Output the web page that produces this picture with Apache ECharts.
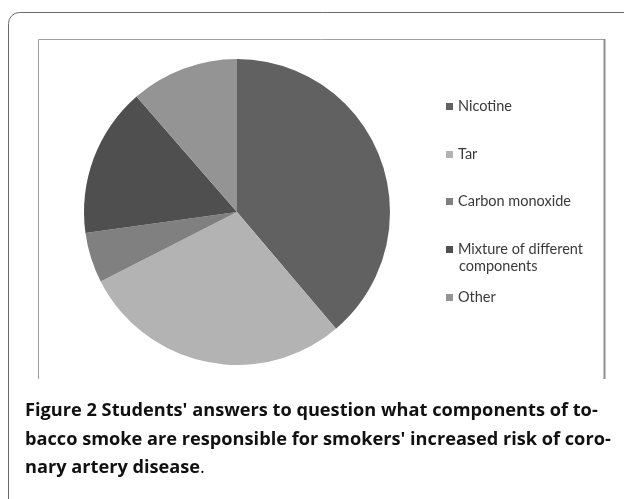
<!DOCTYPE html>
<html>
<head>
<meta charset="utf-8">
<script src="https://cdn.jsdelivr.net/npm/echarts@6/dist/echarts.min.js"></script>
<style>
html,body{margin:0;padding:0;background:#fff;}
#chart{width:624px;height:499px;}
</style>
</head>
<body>
<div id="chart"></div>
<script>
var categories = ['Nicotine', 'Tar', 'Carbon monoxide', 'Mixture of different components', 'Other'];
var values = [38.8, 28.7, 5.3, 15.8, 11.4];
var colors = ['#616161', '#b3b3b3', '#808080', '#4f4f4f', '#949494'];
var legendTops = [94, 142, 189, 237, 285];
var captionLines = [
  [{b:'Figure 2 '}, {s:"Students' answers to question what components of to-"}],
  [{s:"bacco smoke are responsible for smokers' increased risk of coro-"}],
  [{s:'nary artery disease'}, {n:'.'}]
];

var chart = echarts.init(document.getElementById('chart'), null, {renderer:'canvas'});
var legendFont = 'Lato';
var legends = categories.map(function(c, i){
  return {
    data: [c],
    orient: 'vertical',
    left: 441,
    top: legendTops[i],
    itemWidth: 7,
    itemHeight: 7,
    icon: 'rect',
    selectedMode: false,
    textStyle: {fontFamily: legendFont, fontSize: 14.5, color: '#3a3a3a'},
    formatter: function(n){ return n === 'Mixture of different components' ? 'Mixture of different' : n; }
  };
});
var captionGraphics = captionLines.map(function(line, i){
  var txt = line.map(function(p){
    if (p.b) return '{b|' + p.b + '}';
    if (p.s) return '{s|' + p.s + '}';
    return '{n|' + p.n + '}';
  }).join('');
  return {
    type: 'text', left: 25, top: 402 + i * 28.5,
    style: {
      text: txt,
      rich: {
        b: {fontFamily: 'Open Sans', fontWeight: 'bold', fontSize: 18.2, fill: '#111'},
        s: {fontFamily: 'Open Sans', fontWeight: 'bold', fontSize: 18.2, fill: '#111'},
        n: {fontFamily: 'Open Sans', fontWeight: 'normal', fontSize: 18.2, fill: '#111'}
      }
    }
  };
});
chart.setOption({
  animation: false,
  color: colors,
  legend: legends,
  graphic: [
    {type:'rect', shape:{x:8.5, y:12.5, width:700, height:600, r:11}, style:{fill:'none', stroke:'#6a6a6a', lineWidth:1}},
    {type:'polyline', shape:{points:[[38.5,379],[38.5,39.5],[604.5,39.5]]}, style:{fill:'none', stroke:'#a0a0a0', lineWidth:1}},
    {type:'line', shape:{x1:604.5, y1:39, x2:604.5, y2:379}, style:{stroke:'#909090', lineWidth:2}},
    {type:'text', left: 459, top: 259, style:{text:'components', fontFamily: legendFont, fontSize: 14.5, fill:'#3a3a3a'}}
  ].concat(captionGraphics),
  series: [{
    type: 'pie',
    center: [237, 212],
    radius: [0, 153],
    startAngle: 90,
    clockwise: true,
    label: {show: false},
    labelLine: {show: false},
    emphasis: {disabled: true},
    itemStyle: {borderWidth: 0},
    data: categories.map(function(c, i){ return {name: c, value: values[i]}; })
  }]
});
</script>
</body>
</html>
